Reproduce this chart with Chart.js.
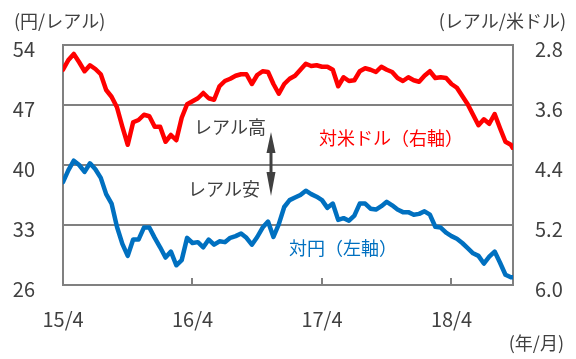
<!DOCTYPE html>
<html><head><meta charset="utf-8">
<script src="https://cdn.jsdelivr.net/npm/chart.js@4"></script>
<style>html,body{margin:0;padding:0;background:#fff;overflow:hidden}</style>
</head><body>
<canvas id="c" width="576" height="359"></canvas>
<script>
// Observation dates (half-monthly), Apr 2015 – Sep 2018
const dates = [
 '2015/04/01','2015/04/16','2015/05/01','2015/05/16','2015/06/01','2015/06/16','2015/07/01','2015/07/16',
 '2015/08/01','2015/08/16','2015/09/01','2015/09/16','2015/10/01','2015/10/16','2015/11/01','2015/11/16',
 '2015/12/01','2015/12/16',
 '2016/01/01','2016/01/16','2016/02/01','2016/02/16','2016/03/01','2016/03/16','2016/04/01','2016/04/16',
 '2016/05/01','2016/05/16','2016/06/01','2016/06/16','2016/07/01','2016/07/16','2016/08/01','2016/08/16',
 '2016/09/01','2016/09/16','2016/10/01','2016/10/16','2016/11/01','2016/11/16','2016/12/01','2016/12/16',
 '2017/01/01','2017/01/16','2017/02/01','2017/02/16','2017/03/01','2017/03/16','2017/04/01','2017/04/16',
 '2017/05/01','2017/05/16','2017/06/01','2017/06/16','2017/07/01','2017/07/16','2017/08/01','2017/08/16',
 '2017/09/01','2017/09/16','2017/10/01','2017/10/16','2017/11/01','2017/11/16','2017/12/01','2017/12/16',
 '2018/01/01','2018/01/16','2018/02/01','2018/02/16','2018/03/01','2018/03/16','2018/04/01','2018/04/16',
 '2018/05/01','2018/05/16','2018/06/01','2018/06/16','2018/07/01','2018/07/16','2018/08/01','2018/08/16',
 '2018/09/01','2018/09/16','2018/09/21'
];
// Real per US dollar (right axis, inverted)
const brlPerUsd = [
 3.13,3.00,2.92,3.03,3.15,3.07,3.12,3.19,3.40,3.49,3.63,3.89,4.13,3.83,3.80,3.73,3.75,3.89,
 3.89,4.09,4.00,4.07,3.77,3.59,3.55,3.51,3.44,3.51,3.53,3.35,3.28,3.25,3.21,3.19,3.19,3.32,3.20,3.15,3.16,3.32,3.45,3.32,
 3.25,3.21,3.13,3.05,3.08,3.07,3.09,3.09,3.13,3.35,3.23,3.28,3.27,3.15,3.11,3.13,3.16,3.09,3.13,3.16,3.24,3.28,3.23,3.27,
 3.29,3.21,3.15,3.24,3.23,3.24,3.32,3.37,3.48,3.59,3.73,3.87,3.79,3.85,3.72,3.91,4.09,4.13,4.17
];
// Yen per real (left axis)
const jpyPerBrl = [
 38.0,39.4,40.5,40.0,39.2,40.2,39.5,38.5,36.6,35.5,32.8,30.8,29.4,31.3,31.3,32.7,32.7,31.5,
 30.4,29.2,29.9,28.3,28.9,31.5,30.9,31.0,30.4,31.3,30.7,31.1,31.0,31.5,31.7,32.0,31.5,30.7,31.6,32.7,33.4,31.6,33.1,35.1,
 35.9,36.2,36.5,37.0,36.6,36.3,35.9,35.0,35.5,33.6,33.8,33.5,34.1,35.5,35.5,34.9,34.8,35.2,35.7,35.3,34.8,34.5,34.5,34.2,
 34.3,34.6,34.2,32.8,32.7,32.1,31.7,31.4,30.9,30.3,29.7,29.4,28.5,29.3,29.9,28.6,27.2,26.9,26.9
];
const xTickMonths = [0, 12, 24, 36];
const xTickLabels = ['15/4', '16/4', '17/4', '18/4'];
const leftTicks = [26, 33, 40, 47, 54];
const rightTicks = [2.8, 3.6, 4.4, 5.2, 6.0];
const seriesNames = ['対米ドル（右軸）', '対円（左軸）'];

function toMonths(s) {
  const [y, m, d] = s.split('/').map(Number);
  return (y - 2015) * 12 + (m - 4) + (d - 1) / 30;
}
const xs = dates.map(toMonths);
const FONT = '"Noto Sans CJK JP", "Noto Sans", sans-serif';
const GRID = '#808080';
const TXT = '#404040';

const overlay = {
  id: 'overlay',
  afterDraw(chart) {
    const ctx = chart.ctx, x = chart.scales.x, area = chart.chartArea;
    ctx.save();
    ctx.strokeStyle = GRID; ctx.lineWidth = 2;
    xTickMonths.slice(1).forEach(v => {
      const px = Math.round(x.getPixelForValue(v));
      ctx.beginPath(); ctx.moveTo(px, area.bottom); ctx.lineTo(px, area.bottom - 7); ctx.stroke();
    });
    ctx.font = '18px ' + FONT; ctx.fillStyle = TXT; ctx.textBaseline = 'middle';
    ctx.textAlign = 'left'; ctx.fillText('(円/レアル)', 14, 21);
    ctx.textAlign = 'right'; ctx.fillText('(レアル/米ドル)', 566, 21);
    ctx.fillText('(年/月)', 564, 343);
    ctx.textAlign = 'center';
    ctx.fillText('レアル高', 230, 127);
    ctx.fillText('レアル安', 224, 189);
    ctx.fillStyle = '#FF0000'; ctx.fillText(seriesNames[0], 391, 138);
    ctx.fillStyle = '#0070C0'; ctx.fillText(seriesNames[1], 343, 248);
    const ax = 271;
    ctx.fillStyle = TXT; ctx.strokeStyle = TXT; ctx.lineWidth = 3;
    ctx.beginPath(); ctx.moveTo(ax, 150); ctx.lineTo(ax, 175); ctx.stroke();
    ctx.beginPath(); ctx.moveTo(ax, 132); ctx.lineTo(ax - 4.5, 153); ctx.lineTo(ax + 4.5, 153); ctx.closePath(); ctx.fill();
    ctx.beginPath(); ctx.moveTo(ax, 196); ctx.lineTo(ax - 4.5, 172); ctx.lineTo(ax + 4.5, 172); ctx.closePath(); ctx.fill();
    ctx.restore();
  }
};

new Chart(document.getElementById('c'), {
  type: 'line',
  data: {
    datasets: [
      { label: seriesNames[0], data: xs.map((v, i) => ({x: v, y: brlPerUsd[i]})), yAxisID: 'y1',
        borderColor: '#FF0000', borderWidth: 4.5, pointRadius: 0, tension: 0, borderJoinStyle: 'round', borderCapStyle: 'round' },
      { label: seriesNames[1], data: xs.map((v, i) => ({x: v, y: jpyPerBrl[i]})), yAxisID: 'y',
        borderColor: '#0070C0', borderWidth: 4.5, pointRadius: 0, tension: 0, borderJoinStyle: 'round', borderCapStyle: 'round' }
    ]
  },
  options: {
    responsive: false, animation: false, devicePixelRatio: 1,
    layout: { padding: { top: 45, left: 0, right: 0, bottom: 0 } },
    plugins: { legend: { display: false }, tooltip: { enabled: false } },
    scales: {
      x: {
        type: 'linear', min: 0, max: 41.7,
        afterBuildTicks: s => { s.ticks = xTickMonths.map(v => ({ value: v })); },
        afterFit: s => { s.height = 74; },
        ticks: { padding: 22, maxRotation: 0, autoSkip: false, color: TXT, font: { size: 20, family: FONT },
          callback: (v) => xTickLabels[xTickMonths.indexOf(v)] },
        grid: { display: false, drawTicks: false },
        border: { display: true, color: GRID, width: 2 }
      },
      y: {
        position: 'left', min: 26, max: 54,
        afterBuildTicks: s => { s.ticks = leftTicks.map(v => ({ value: v })); },
        afterFit: s => { s.width = 63; },
        ticks: { padding: 28, labelOffset: 4, color: TXT, font: { size: 20, family: FONT } },
        grid: { color: GRID, lineWidth: 2, drawTicks: false },
        border: { display: true, color: GRID, width: 2 }
      },
      y1: {
        position: 'right', min: 2.8, max: 6.0, reverse: true,
        afterBuildTicks: s => { s.ticks = rightTicks.map(v => ({ value: v })); },
        afterFit: s => { s.width = 63; },
        ticks: { padding: 22, labelOffset: 4, color: TXT, font: { size: 20, family: FONT },
          callback: v => Number(v).toFixed(1) },
        grid: { display: false, drawTicks: false },
        border: { display: true, color: GRID, width: 2 }
      }
    }
  },
  plugins: [overlay]
});
</script>
</body></html>
